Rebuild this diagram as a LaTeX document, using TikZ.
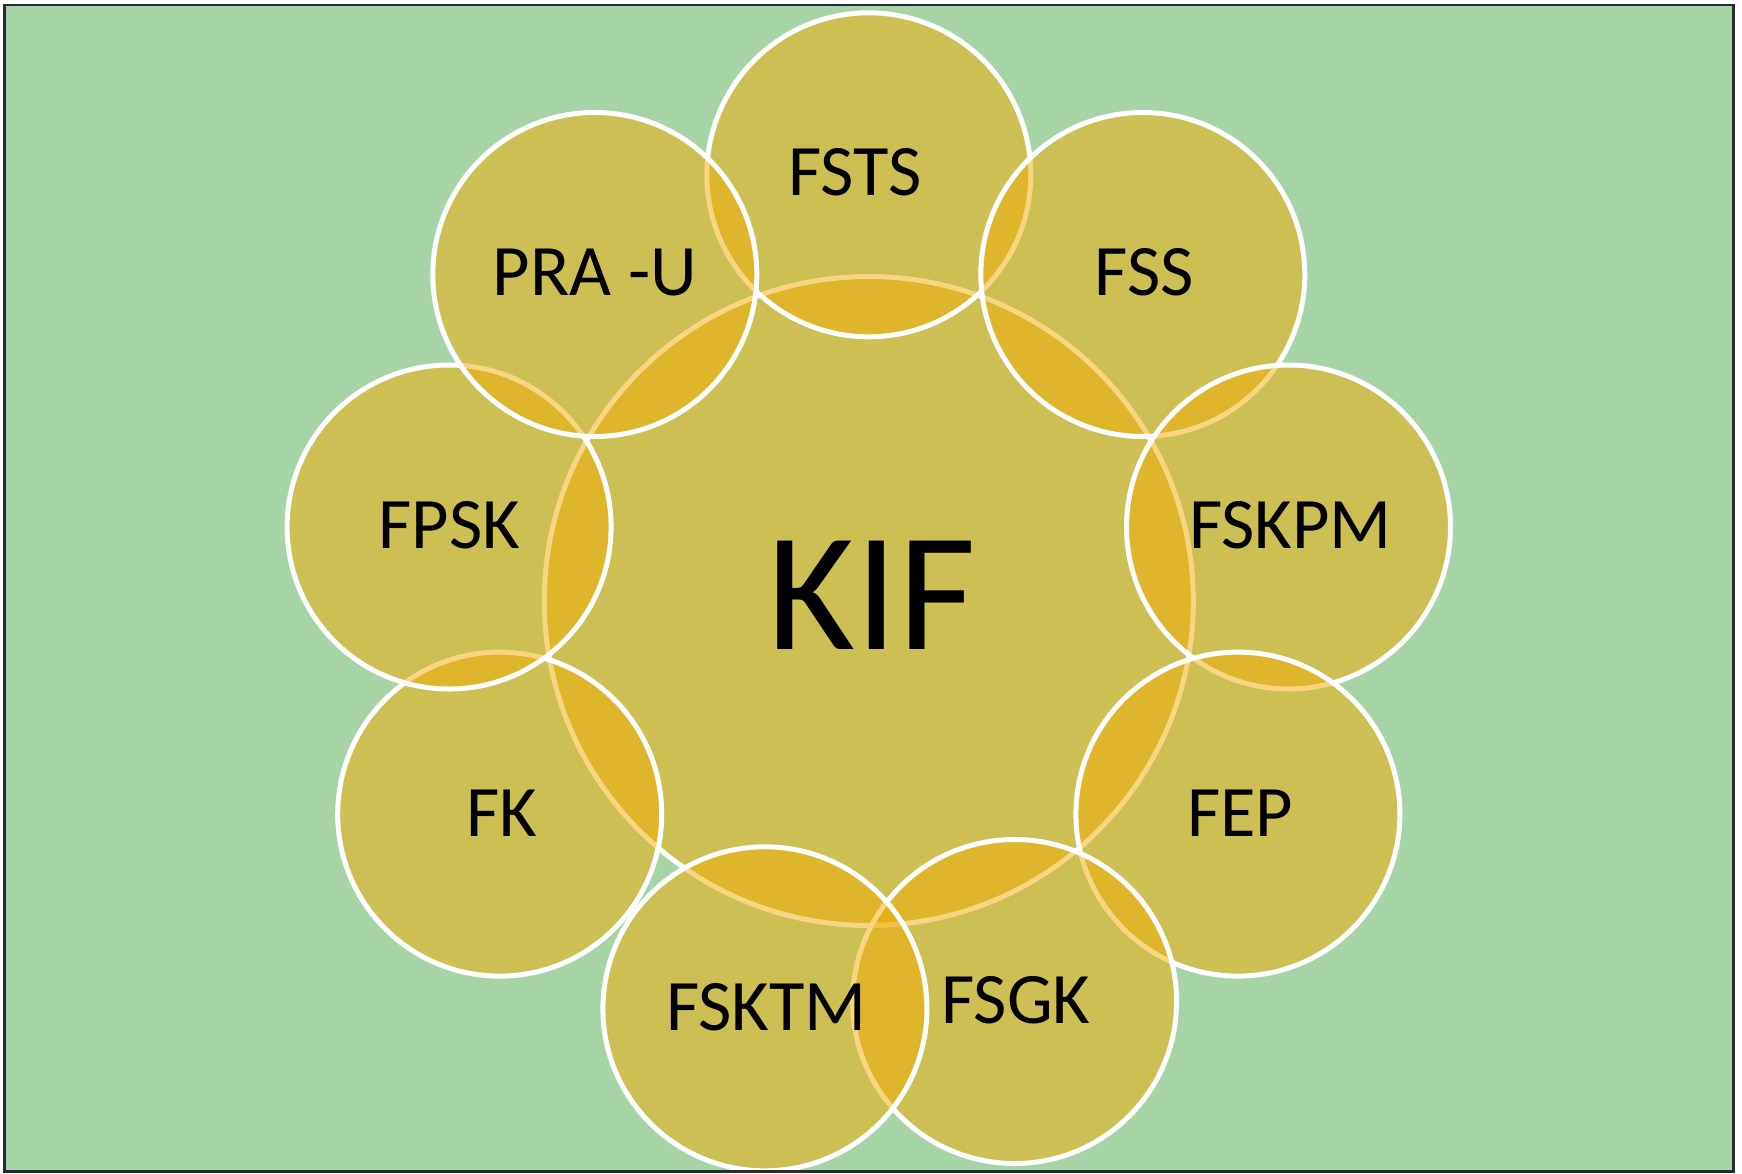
\documentclass[tikz,border=0pt]{standalone}
\usepackage{fontspec}
\setmainfont{Carlito}
\definecolor{bggreen}{RGB}{166,212,166}
\definecolor{goldfill}{RGB}{242,172,4}
\definecolor{framecol}{RGB}{38,42,51}
\tikzset{
  venn/.style={circle, inner sep=0pt, outer sep=0pt, fill=goldfill, fill opacity=0.5,
    draw=white, draw opacity=1, line width=5pt},
  small/.style={venn, minimum size=324pt},
  big/.style={venn, minimum size=649pt},
  lbl/.style={inner sep=0pt, text=black, font=\fontsize{72.5}{80}\selectfont},
  biglbl/.style={inner sep=0pt, text=black, font=\fontsize{169}{180}\selectfont}
}
\begin{document}
\begin{tikzpicture}[x=1pt,y=-1pt]
\useasboundingbox (0,0) rectangle (1742,1173);
\fill[white] (0,0) rectangle (1742,1173);
\fill[bggreen] (4.5,5) rectangle (1733.3,1171.7);
\begin{scope}
\clip (4.5,5) rectangle (1733.3,1171.7);
\node[big]   (kif)   at (868.8,601.0) {};
\node[small] (fsts)  at (868.8,174.8) {};
\node[small] (fss)   at (1142.8,274.5) {};
\node[small] (fskpm) at (1288.5,527.0) {};
\node[small] (fep)   at (1237.9,814.1) {};
\node[small] (fsgk)  at (1014.6,1001.5) {};
\node[small] (fsktm) at (764.9,1008.8) {};
\node[small] (fk)    at (499.7,814.1) {};
\node[small] (fpsk)  at (449.1,527.0) {};
\node[small] (prau)  at (594.8,274.5) {};
\end{scope}
\node[biglbl] (tkif)   at (871.6,595.5) {KIF};
\node[lbl]    (tfsts)  at (854.9,172.2) {FSTS};
\node[lbl]    (tfss)   at (1144.3,272.7) {FSS};
\node[lbl]    (tprau)  at (594.9,272.7) {PRA -U};
\node[lbl]    (tfpsk)  at (449.4,525.5) {FPSK};
\node[lbl]    (tfskpm) at (1290.4,525.5) {FSKPM};
\node[lbl]    (tfk)    at (502.2,813.2) {FK};
\node[lbl]    (tfep)   at (1240.4,813.2) {FEP};
\node[lbl]    (tfsktm) at (766.6,1007.1) {FSKTM};
\node[lbl]    (tfsgk)  at (1016.0,999.9) {FSGK};
\draw[framecol, line width=2.7pt] (4.5,5) rectangle (1733.3,1171.7);
\end{tikzpicture}
\end{document}
